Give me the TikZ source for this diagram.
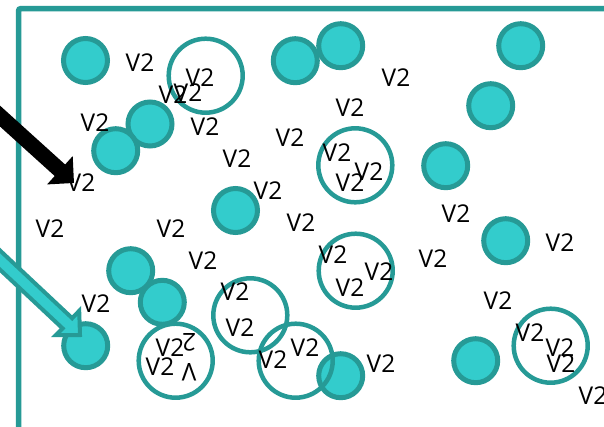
\documentclass[tikz,border=0pt]{standalone}
\usepackage{fontspec}
\setmainfont{Open Sans}
\usetikzlibrary{arrows.meta}
\definecolor{tealline}{RGB}{38,154,150}
\definecolor{tealfill}{RGB}{51,204,204}
\tikzset{
  dot/.style={circle, draw=tealline, fill=tealfill, line width=5pt, minimum size=44pt, inner sep=0pt},
  ring/.style={circle, draw=tealline, line width=4.5pt, minimum size=74pt, inner sep=0pt},
  lbl/.style={inner sep=0pt, font=\fontsize{24.5}{30}\selectfont, text=black},
  frame/.style={draw=tealline, line width=5.5pt, rounded corners=2.5pt},
  bigarrow/.style={line width=15.5pt, -{Triangle[length=19pt,width=37pt]}},
  hollowarrow/.style={draw=tealline, fill=tealfill, line width=4pt, line join=miter}
}
\begin{document}
\begin{tikzpicture}[x=1pt, y=-1pt]
\clip (0,0) rectangle (604,426);
\fill[white] (0,0) rectangle (604,426);

% frame along the top and left
\draw[frame] (18.5,440) |- (620,8.5);

% filled discs
\node[dot] (d1)  at (85.5,60.5) {};
\node[dot] (d2)  at (150,124) {};
\node[dot] (d3)  at (115.7,150.7) {};
\node[dot] (d4)  at (235.5,210.5) {};
\node[dot] (d5)  at (295.3,60.7) {};
\node[dot] (d6)  at (340.7,45.7) {};
\node[dot] (d7)  at (520.7,45.7) {};
\node[dot] (d8)  at (490.7,105.7) {};
\node[dot] (d9)  at (445.7,165.7) {};
\node[dot] (d10) at (505.7,240.7) {};
\node[dot] (d11) at (130.7,270.7) {};
\node[dot] (d12) at (162.3,302.3) {};
\node[dot] (d13) at (85.7,345.7) {};
\node[dot] (d14) at (340.7,375.7) {};
\node[dot] (d15) at (475.7,360.7) {};

% open rings
\node[ring] (r1) at (205.7,75.7) {};
\node[ring] (r2) at (355.3,165.3) {};
\node[ring] (r3) at (355.7,270.7) {};
\node[ring] (r4) at (250.3,315.3) {};
\node[ring] (r5) at (175.7,360.7) {};
\node[ring] (r6) at (295.7,360.7) {};
\node[ring] (r7) at (550.7,345.7) {};

% black arrow coming in from the left
\coordinate (bs) at (-20,98);
\coordinate (bt) at (74,183);
\draw[bigarrow] (bs) -- (bt);

% teal outlined arrow
\draw[hollowarrow] (-10.2,240.9) -- (72.2,318.2) -- (79.2,310.8) -- (80,335)
  -- (55.8,335.2) -- (62.6,328.4) -- (-19.8,251.1) -- cycle;

% labels
\node[lbl] (t1)  at (140,63) {V2};
\node[lbl] (t2)  at (200,78) {V2};
\node[lbl] (t3)  at (173,95) {V2};
\node[lbl] (t4)  at (188,93) {V2};
\node[lbl] (t5)  at (95,123) {V2};
\node[lbl] (t6)  at (205,127) {V2};
\node[lbl] (t7)  at (237,159) {V2};
\node[lbl] (t8)  at (81,183) {V2};
\node[lbl] (t9)  at (396,78) {V2};
\node[lbl] (t10) at (350,108) {V2};
\node[lbl] (t11) at (290,138) {V2};
\node[lbl] (t12) at (337,153) {V2};
\node[lbl] (t13) at (369,172) {V2};
\node[lbl] (t14) at (350,183) {V2};
\node[lbl] (t15) at (268,191) {V2};
\node[lbl] (t16) at (50,229) {V2};
\node[lbl] (t17) at (171,229) {V2};
\node[lbl] (t18) at (203,261) {V2};
\node[lbl] (t19) at (235,292) {V2};
\node[lbl] (t20) at (240,328) {V2};
\node[lbl] (t21) at (96,304) {V2};
\node[lbl] (t22) at (170,348) {V2};
\node[lbl] (t23) at (160,367) {V2};
\node[lbl] (t24) at (301,223) {V2};
\node[lbl] (t25) at (333,255) {V2};
\node[lbl] (t26) at (379,272) {V2};
\node[lbl] (t27) at (350,288) {V2};
\node[lbl] (t28) at (456,214) {V2};
\node[lbl] (t29) at (560,243) {V2};
\node[lbl] (t30) at (433,259) {V2};
\node[lbl] (t31) at (498,301) {V2};
\node[lbl] (t32) at (530,333) {V2};
\node[lbl] (t33) at (560,348) {V2};
\node[lbl] (t34) at (561,364) {V2};
\node[lbl] (t35) at (593,396) {V2};
\node[lbl] (t36) at (273,360) {V2};
\node[lbl] (t37) at (305,348) {V2};
\node[lbl] (t38) at (381,364) {V2};
\node[lbl, rotate=180, align=center] (t39) at (189,357) {V\\2};
\end{tikzpicture}
\end{document}
